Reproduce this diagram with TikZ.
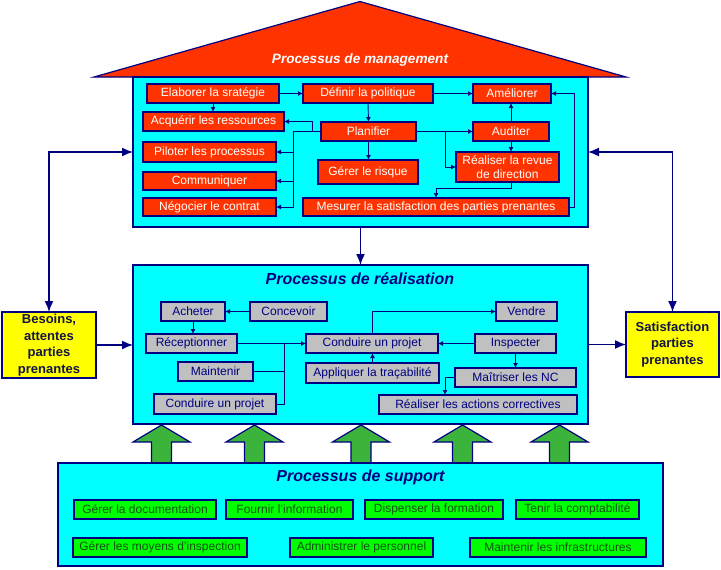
\documentclass[tikz,border=0pt]{standalone}
\usepackage{fontspec}
\setmainfont{Liberation Sans}
\usetikzlibrary{arrows.meta}
\definecolor{navy}{RGB}{0,0,128}
\definecolor{cyanbg}{RGB}{0,255,255}
\definecolor{redbox}{RGB}{255,51,0}
\definecolor{greybox}{RGB}{192,192,192}
\definecolor{greenbox}{RGB}{0,255,0}
\definecolor{greenarr}{RGB}{60,180,60}
\definecolor{yel}{RGB}{255,255,0}
\definecolor{dkgreen}{RGB}{20,80,20}
\definecolor{dknavy}{RGB}{20,20,70}
\begin{document}
\begin{tikzpicture}[x=1pt,y=-1pt,
  every node/.style={inner sep=0pt, outer sep=0pt},
  base/.style={draw=navy, line width=1.2pt, align=center, font=\fontsize{12}{14}\selectfont},
  redn/.style={base, fill=redbox, text=white},
  greyn/.style={base, fill=greybox, text=navy},
  greenn/.style={base, fill=greenbox, text=dkgreen},
  yeln/.style={base, fill=yel, text=dknavy, font=\fontsize{13}{16.5}\selectfont\bfseries},
  cont/.style={draw=navy, line width=1.5pt, fill=cyanbg},
  conn/.style={draw=navy, line width=0.9pt, -{Latex[length=5pt,width=5pt]}},
  plain/.style={draw=navy, line width=0.9pt},
  bigarr/.style={draw=navy, line width=1.5pt, -{Latex[length=11pt,width=9pt]}},
  bigdbl/.style={draw=navy, line width=1.5pt, {Latex[length=11pt,width=9pt]}-{Latex[length=11pt,width=9pt]}},
  titlef/.style={font=\fontsize{16}{19}\selectfont\bfseries\itshape, text=navy},
  garr/.style={fill=greenarr, draw=navy, line width=1.2pt}
]
\useasboundingbox[fill=white] (0,0) rectangle (721,570);

% ---------- management ----------
\filldraw[fill=redbox, draw=navy, line width=1.2pt] (94,77) -- (360,1.5) -- (626,77) -- cycle;
\node[titlef, text=white, font=\fontsize{13.6}{16}\selectfont\bfseries\itshape] (mtitle) at (360,60) {Processus de management};
\node[cont, minimum width=455pt, minimum height=150pt] (mgmt) at (360.5,152) {};

\node[redn, minimum width=132pt, minimum height=19pt] (elab) at (213,93.5) {Elaborer la sratégie};
\node[redn, minimum width=130pt, minimum height=19pt] (defin) at (368,93.5) {Définir la politique};
\node[redn, minimum width=78pt, minimum height=19pt] (amel) at (512,93.5) {Améliorer};
\node[redn, minimum width=141pt, minimum height=19pt] (acq) at (213.5,121.5) {Acquérir les ressources};
\node[redn, minimum width=95pt, minimum height=19pt] (plan) at (368.5,131.5) {Planifier};
\node[redn, minimum width=76pt, minimum height=19pt] (audit) at (511,131.5) {Auditer};
\node[redn, minimum width=133pt, minimum height=20pt] (pilot) at (209.5,152) {Piloter les processus};
\node[redn, minimum width=100pt, minimum height=24pt] (risque) at (368,172) {Gérer le risque};
\node[redn, minimum width=103pt, minimum height=30pt] (revue) at (507.5,167) {Réaliser la revue\\de direction};
\node[redn, minimum width=133pt, minimum height=18pt] (comm) at (209.5,181) {Communiquer};
\node[redn, minimum width=133pt, minimum height=18pt] (nego) at (209.5,207) {Négocier le contrat};
\node[redn, minimum width=266pt, minimum height=18pt] (mesur) at (436,207) {Mesurer la satisfaction des parties prenantes};

\draw[conn] (elab.east) -- (defin.west);
\draw[conn] (elab.south) -- (elab.south |- acq.north);
\draw[conn] (defin.east) -- (amel.west);
\draw[conn] (defin.south) -- (plan.north);
\draw[conn] (plan.south) -- (plan.south |- risque.north);
\draw[conn] (plan.west) -- ++(-9,0) |- (acq.east);
\coordinate (jL) at (293,131.5);
\draw[plain] (plan.west) -- (jL);
\draw[conn] (jL) |- (pilot.east);
\draw[conn] (jL) |- (comm.east);
\draw[conn] (jL) |- (nego.east);
\draw[conn] (plan.east) -- (audit.west);
\draw[conn] (plan.east) -- ++(29,0) |- (revue.west);
\draw[conn] (audit.north) -- (audit.north |- amel.south);
\draw[conn] (audit.south) -- (audit.south |- revue.north);
\draw[conn] (audit.south |- revue.south) -- ++(0,6) -| (mesur.north);
\draw[conn] (mesur.east) -- ++(5,0) |- (amel.east);

% ---------- realisation ----------
\node[cont, minimum width=455pt, minimum height=159pt] (real) at (360.5,344.5) {};
\node[titlef] (rtitle) at (360,279) {Processus de réalisation};

\node[greyn, minimum width=64pt, minimum height=19pt] (achet) at (193,311.5) {Acheter};
\node[greyn, minimum width=77pt, minimum height=19pt] (concev) at (288.5,311.5) {Concevoir};
\node[greyn, minimum width=91pt, minimum height=19pt] (recep) at (191.5,343.5) {Réceptionner};
\node[greyn, minimum width=132pt, minimum height=19pt] (cond1) at (372,343.5) {Conduire un projet};
\node[greyn, minimum width=75pt, minimum height=19pt] (maint) at (215.5,371.5) {Maintenir};
\node[greyn, minimum width=133pt, minimum height=20pt] (tracab) at (372.5,373) {Appliquer la traçabilité};
\node[greyn, minimum width=122pt, minimum height=20pt] (cond2) at (215,404) {Conduire un projet};
\node[greyn, minimum width=61pt, minimum height=19pt] (vendre) at (526.5,311.5) {Vendre};
\node[greyn, minimum width=81pt, minimum height=19pt] (inspect) at (515.5,343.5) {Inspecter};
\node[greyn, minimum width=121pt, minimum height=19pt] (maitr) at (515.5,377.5) {Maîtriser les NC};
\node[greyn, minimum width=198pt, minimum height=19pt] (actions) at (478,404.5) {Réaliser les actions correctives};

\draw[conn] (concev.west) -- (achet.east);
\draw[conn] (achet.south) -- (achet.south |- recep.north);
\draw[conn] (recep.east) -- (cond1.west);
\coordinate (jR) at (284,343.5);
\draw[plain] (maint.east) -| (jR);
\draw[plain] (cond2.east) -| (jR);
\draw[conn] (tracab.north) -- (tracab.north |- cond1.south);
\draw[conn] (cond1.north) |- (vendre.west);
\draw[conn] (inspect.west) -- (cond1.east);
\draw[conn] (inspect.south) -- (inspect.south |- maitr.north);
\coordinate (jM) at (445,377.5);
\draw[conn] (maitr.west) -- (jM) -- (jM |- actions.north);

% ---------- green arrows ----------
\foreach \cx in {161.5,254.5,361,462.5,559.5}{
  \filldraw[garr] (\cx,425) -- (\cx+28.5,442) -- (\cx+10,442) -- (\cx+10,463)
     -- (\cx-10,463) -- (\cx-10,442) -- (\cx-28.5,442) -- cycle;
}

% ---------- support ----------
\node[cont, minimum width=605pt, minimum height=103pt] (supp) at (360.5,514.5) {};
\node[titlef] (stitle) at (360.5,477) {Processus de support};

\node[greenn, minimum width=142pt, minimum height=19pt] (doc) at (145,509.5) {Gérer la documentation};
\node[greenn, minimum width=127pt, minimum height=19pt] (info) at (289.5,509.5) {Fournir l'information};
\node[greenn, minimum width=138pt, minimum height=19pt] (form) at (434,509.5) {Dispenser la formation};
\node[greenn, minimum width=123pt, minimum height=19pt] (compta) at (577.5,509.5) {Tenir la comptabilité};
\node[greenn, minimum width=174pt, minimum height=19pt] (moyens) at (160,547.5) {Gérer les moyens d'inspection};
\node[greenn, minimum width=143pt, minimum height=19pt] (admin) at (361.5,547.5) {Administrer le personnel};
\node[greenn, minimum width=176pt, minimum height=19pt] (infra) at (558,547.5) {Maintenir les infrastructures};

% ---------- mgmt -> realisation ----------
\draw[bigarr] (mgmt.south -| real.north) -- (real.north);

% ---------- side boxes ----------
\node[yeln, minimum width=94pt, minimum height=66pt] (bes) at (49,345) {Besoins,\\attentes\\parties\\prenantes};
\node[yeln, minimum width=93pt, minimum height=65pt] (sat) at (672.5,344.5) {Satisfaction\\parties\\prenantes};

\draw[bigdbl] (bes.north) |- (mgmt.west);
\draw[bigdbl] (sat.north) |- (mgmt.east);
\draw[bigarr] (bes.east) -- (bes.east -| real.west);
\draw[bigarr] (real.east |- sat.west) -- (sat.west);
\end{tikzpicture}
\end{document}
